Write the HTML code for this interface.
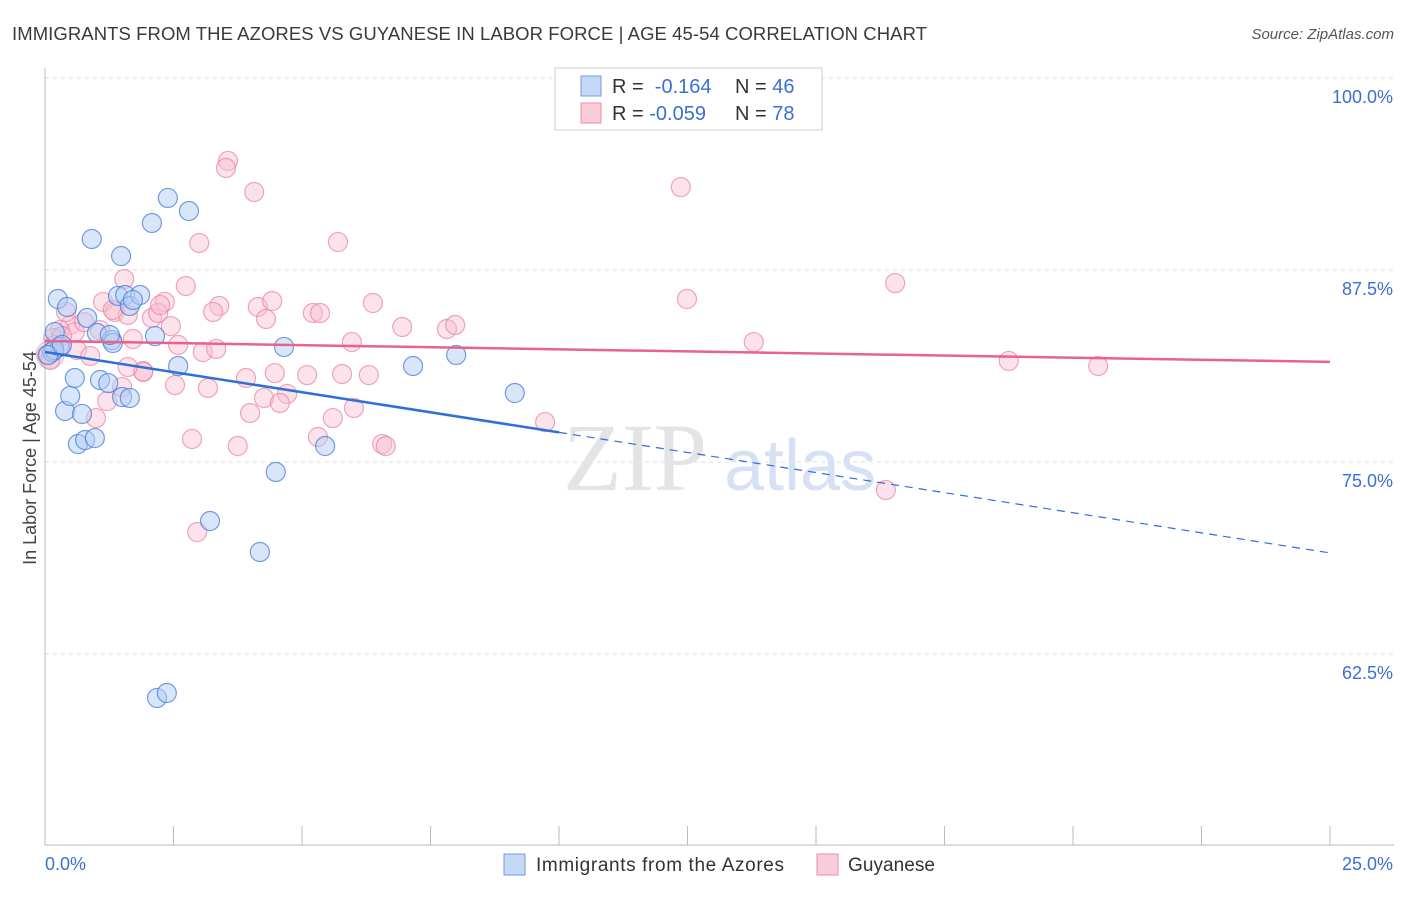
<!DOCTYPE html>
<html><head><meta charset="utf-8"><style>
body{margin:0;background:#fff;font-family:"Liberation Sans",sans-serif;}
</style></head><body>
<svg id="chart" width="1406" height="892" xmlns="http://www.w3.org/2000/svg">
<text x="12" y="40" font-size="18.5" fill="#3a3a3a" textLength="915">IMMIGRANTS FROM THE AZORES VS GUYANESE IN LABOR FORCE | AGE 45-54 CORRELATION CHART</text>
<text x="1394" y="39" font-size="15" fill="#555" font-style="italic" text-anchor="end">Source: ZipAtlas.com</text>
<text x="36" y="458" font-size="18" fill="#444" text-anchor="middle" transform="rotate(-90 36 458)">In Labor Force | Age 45-54</text>
<g id="grid"></g>
<g id="axes"></g>
<text x="635" y="490" font-size="96" fill="#e4e4e4" font-family="Liberation Serif,serif" text-anchor="middle">ZIP</text>
<text x="800" y="490" font-size="72" fill="#d6e2f4" text-anchor="middle">atlas</text>
<g id="marks"></g>
<g>
<rect x="555" y="68" width="267" height="62" fill="#fff" stroke="#ccc"/>
<rect x="581" y="76" width="20" height="20" fill="#c5d9f6" stroke="#6f9be0"/>
<text x="612" y="93" font-size="20" fill="#333">R = <tspan fill="#3b6fd6">&#160;-0.164</tspan></text>
<text x="735" y="93" font-size="20" fill="#333">N = <tspan fill="#3b6fd6">46</tspan></text>
<rect x="581" y="103" width="20" height="20" fill="#f9ccd9" stroke="#ea8eab"/>
<text x="612" y="120" font-size="20" fill="#333">R = <tspan fill="#3b6fd6">-0.059</tspan></text>
<text x="735" y="120" font-size="20" fill="#333">N = <tspan fill="#3b6fd6">78</tspan></text>
</g>
<g>
<rect x="504" y="854" width="21" height="21" fill="#c5d9f6" stroke="#6f9be0"/>
<text x="536" y="871" font-size="19" fill="#333" textLength="248">Immigrants from the Azores</text>
<rect x="817" y="854" width="21" height="21" fill="#f9ccd9" stroke="#ea8eab"/>
<text x="848" y="871" font-size="19" fill="#333" textLength="87">Guyanese</text>
</g>
</svg>
<script>
const yTicks=[100,87.5,75,62.5];
const yTickLabels=["100.0%","87.5%","75.0%","62.5%"];
const xEnds=[0,25];
const xEndLabels=["0.0%","25.0%"];
const blueX=[0.14,0.19,0.25,0.43,0.29,0.39,0.49,0.58,0.72,0.64,0.78,0.97,0.82,0.91,1.01,1.07,1.23,1.30,1.32,1.42,1.48,1.56,1.50,1.65,1.65,1.85,2.08,2.14,2.39,2.59,2.80,3.21,4.18,4.49,4.65,5.45,7.16,8.00,9.14,2.18,2.37,0.18,0.06,0.33,1.26,1.71];
const blueY=[82.16,83.46,85.61,85.09,82.49,78.32,79.30,80.47,78.13,76.17,76.43,76.56,84.38,89.52,83.40,80.34,80.14,82.94,82.75,85.81,88.41,85.87,79.23,79.17,85.16,85.87,90.56,83.20,92.19,81.25,91.34,71.16,69.14,74.35,82.49,76.04,81.25,81.97,79.49,59.64,59.96,82.29,81.97,82.62,83.27,85.55];
const pinkX=[3.56,3.52,4.07,3.00,5.70,12.37,16.54,12.49,1.54,2.74,1.13,2.33,3.39,4.14,4.42,6.38,5.21,5.35,3.27,1.36,1.61,2.08,2.20,2.45,4.30,6.95,7.82,7.98,0.49,0.29,0.16,0.58,1.71,2.59,3.07,3.33,5.97,13.79,18.75,20.49,0.62,0.88,1.91,2.53,3.91,4.47,5.10,5.78,6.30,3.17,1.50,1.21,4.26,4.71,4.57,3.99,5.60,6.01,0.99,2.86,3.75,5.31,6.56,6.63,9.73,16.36,2.96,0.41,1.91,0.18,0.04,0.76,1.32,2.24,1.61,1.07,0.33,0.10];
const pinkY=[94.60,94.14,92.58,89.26,89.32,92.90,86.65,85.61,86.91,86.46,85.42,85.42,85.16,85.09,85.48,85.35,84.70,84.70,84.77,84.77,84.57,84.38,84.70,83.85,84.31,83.79,83.66,83.92,83.92,83.59,83.07,83.46,83.01,82.62,82.16,82.36,82.81,82.81,81.58,81.25,82.29,81.90,80.92,80.01,80.47,80.79,80.66,80.73,80.66,79.82,79.88,78.97,79.17,79.43,78.84,78.19,77.86,78.52,77.86,76.50,76.04,76.63,76.17,76.04,77.60,73.18,70.44,84.77,80.86,82.62,81.97,84.11,84.90,85.22,81.19,83.59,83.20,81.64];
const blueTrend=[82.16,69.08];
const blueSolidEnd=10;
const pinkTrend=[82.88,81.52];

const NS="http://www.w3.org/2000/svg";
const X0=45,X1=1330,Y100=78,PX_PER_PCT=192/12.5;
function sx(v){return X0+(v-xEnds[0])/(xEnds[1]-xEnds[0])*(X1-X0);}
function sy(v){return Y100+(100-v)*PX_PER_PCT;}
function mk(tag,attrs,parent){const e=document.createElementNS(NS,tag);for(const k in attrs)e.setAttribute(k,attrs[k]);parent.appendChild(e);return e;}
const grid=document.getElementById('grid'),axes=document.getElementById('axes'),marks=document.getElementById('marks');
yTicks.forEach((t,i)=>{
  const l=mk('line',{x1:X0,x2:1394,y1:sy(t),y2:sy(t),stroke:'#dcdcdc','stroke-dasharray':'4,4'},grid);
  
  
  const tx=mk('text',{x:1393,y:sy(t)+25,'font-size':18,fill:'#3b6fd6','text-anchor':'end'},axes);
  tx.textContent=yTickLabels[i];
  
  
});
const ya=mk('line',{x1:X0,x2:X0,y1:68,y2:845,stroke:'#bbb'},axes);


const xa=mk('line',{x1:X0,x2:1394,y1:845,y2:845,stroke:'#bbb'},axes);


for(let i=0;i<=10;i++){
  const v=xEnds[0]+i*(xEnds[1]-xEnds[0])/10;
  const tk=mk('line',{x1:sx(v),x2:sx(v),y1:826,y2:845,stroke:'#bbb'},axes);
  
  
}
xEndLabels.forEach((s,i)=>{
  const tx=mk('text',{x:i?1393:45,y:870,'font-size':18,fill:'#3b6fd6','text-anchor':i?'end':'start'},axes);
  tx.textContent=s;
  
  
});
const big=mk('circle',{cx:sx(0.1),cy:sy(82),r:14,fill:'rgba(232,150,175,0.3)',stroke:'rgba(150,140,200,0.4)'},marks);


pinkX.forEach((x,i)=>{
  const c=mk('circle',{cx:sx(x),cy:sy(pinkY[i]),r:9.5,fill:'rgba(248,190,208,0.45)',stroke:'rgba(232,130,160,0.7)','stroke-width':1.2},marks);
  
  
});
blueX.forEach((x,i)=>{
  const c=mk('circle',{cx:sx(x),cy:sy(blueY[i]),r:9.5,fill:'rgba(180,205,245,0.5)',stroke:'rgba(70,125,215,0.75)','stroke-width':1.2},marks);
  
  
});
function trendY(t,x){return t[0]+(t[1]-t[0])*(x-xEnds[0])/(xEnds[1]-xEnds[0]);}
const pl=mk('line',{x1:sx(0),y1:sy(trendY(pinkTrend,0)),x2:sx(25),y2:sy(trendY(pinkTrend,25)),stroke:'#e8628e','stroke-width':2.5},marks);


const bl=mk('line',{x1:sx(0),y1:sy(trendY(blueTrend,0)),x2:sx(blueSolidEnd),y2:sy(trendY(blueTrend,blueSolidEnd)),stroke:'#2f6fd8','stroke-width':2.5},marks);


const bd=mk('line',{x1:sx(blueSolidEnd),y1:sy(trendY(blueTrend,blueSolidEnd)),x2:sx(25),y2:sy(trendY(blueTrend,25)),stroke:'#2f6fd8','stroke-width':1.2,'stroke-dasharray':'8,6'},marks);


</script>
</body></html>
